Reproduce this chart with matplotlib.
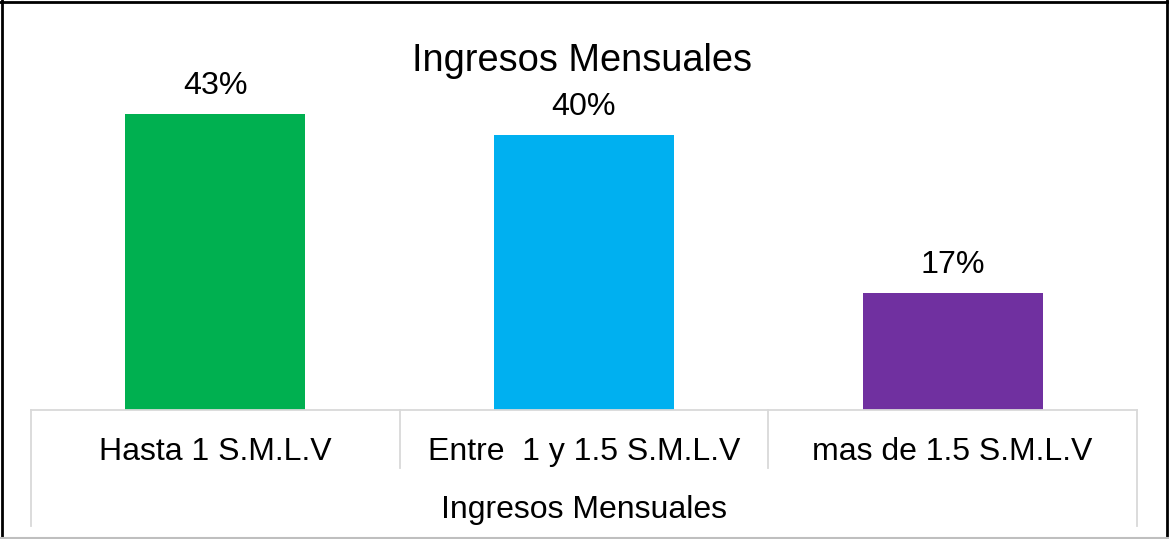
import matplotlib
matplotlib.use("Agg")
import matplotlib.pyplot as plt
from matplotlib.lines import Line2D

categories = ["Hasta 1 S.M.L.V", "Entre  1 y 1.5 S.M.L.V", "mas de 1.5 S.M.L.V"]
values = [43, 40, 17]
labels = ["43%", "40%", "17%"]
colors = ["#00B050", "#00B0F0", "#7030A0"]
title = "Ingresos Mensuales"
group_label = "Ingresos Mensuales"

plt.rcParams['font.family'] = ['Liberation Sans', 'DejaVu Sans']

W, H = 1169, 539
fig = plt.figure(figsize=(W / 100, H / 100), dpi=100)
ax = fig.add_axes([31 / W, (H - 410) / H, (1137 - 31) / W, (410 - 32) / H])

x = list(range(len(categories)))
bars = ax.bar(x, values, width=0.488, color=colors)
ax.set_xlim(-0.5, len(categories) - 0.5)
ax.set_ylim(0, 55)
for s in ["top", "right", "left"]:
    ax.spines[s].set_visible(False)
ax.spines["bottom"].set_color("#D9D9D9")
ax.spines["bottom"].set_linewidth(1.3)
ax.set_yticks([])
ax.set_xticks([])

for b, lab in zip(bars, labels):
    ax.annotate(lab, (b.get_x() + b.get_width() / 2, b.get_height()),
                xytext=(0, 13), textcoords="offset pixels",
                ha="center", va="bottom", fontsize=23.2, color="#000000")

tr = ax.get_xaxis_transform()
px = 1 / 378.0
for i, c in enumerate(categories):
    ax.text(i, -42 * px, c, transform=tr, ha="center", va="center", fontsize=23)
ax.text((len(categories) - 1) / 2, -100 * px, group_label, transform=tr,
        ha="center", va="center", fontsize=23)

edges = [i - 0.5 for i in range(len(categories) + 1)]
for j, e in enumerate(edges):
    outer = j == 0 or j == len(edges) - 1
    y1 = -116 * px if outer else -58 * px
    ax.add_line(Line2D([e, e], [0, y1], transform=tr, color="#D9D9D9",
                       lw=1.3, clip_on=False))

fig.text(582 / W, 1 - 61 / H, title, ha="center", va="center", fontsize=27.4)

# chart border
fig.add_artist(Line2D([2 / W, 2 / W], [0, 1], color="black", lw=2, transform=fig.transFigure))
fig.add_artist(Line2D([0, 1], [1 - 1.5 / H, 1 - 1.5 / H], color="black", lw=2, transform=fig.transFigure))
fig.add_artist(Line2D([1166.5 / W, 1166.5 / W], [0, 1], color="black", lw=2, transform=fig.transFigure))
fig.add_artist(Line2D([0, 1], [1.5 / H, 1.5 / H], color="#BFBFBF", lw=1.5, transform=fig.transFigure))

fig.savefig("out.png", dpi=100)
